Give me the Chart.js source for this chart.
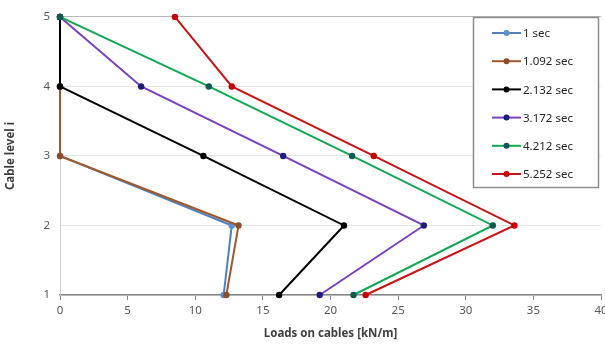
<!DOCTYPE html>
<html>
<head>
<meta charset="utf-8">
<script src="https://cdn.jsdelivr.net/npm/chart.js@4.4.0/dist/chart.umd.min.js"></script>
<style>
  html, body { margin: 0; padding: 0; background: #fff; }
  #wrap { width: 605px; height: 345px; position: relative; }
</style>
</head>
<body>
<div id="wrap"><canvas id="cables"></canvas></div>
<script>
// cable levels (y) and loads per time step (x)
const levels = [1, 2, 3, 4, 5];
const seriesNames = ["1 sec", "1.092 sec", "2.132 sec", "3.172 sec", "4.212 sec", "5.252 sec"];
const load1000 = [12.1, 12.7, 0, 0, 0];
const load1092 = [12.3, 13.2, 0, 0, 0];
const load2132 = [16.2, 21.0, 10.6, 0, 0];
const load3172 = [19.2, 26.9, 16.5, 6.0, 0];
const load4212 = [21.7, 32.0, 21.6, 11.0, 0];
const load5252 = [22.6, 33.6, 23.2, 12.7, 8.5];
const xTicks = [0, 5, 10, 15, 20, 25, 30, 35, 40];

const lineColors = ["#4f81bd", "#a0582c", "#000000", "#7b3fbf", "#10a850", "#c81414"];
const dotColors = ["#5b8fd0", "#8a4e2a", "#000000", "#1e1e78", "#0d5a50", "#c80000"];
const allLoads = [load1000, load1092, load2132, load3172, load4212, load5252];

function toPoints(loads) {
    return loads.map(function (v, i) { return { x: v, y: levels[i] }; });
}

const datasets = allLoads.map(function (loads, i) {
    return {
        label: seriesNames[i],
        data: toPoints(loads),
        showLine: true,
        order: allLoads.length - i,   // later series on top, like the spreadsheet
        clip: false,
        borderColor: lineColors[i],
        backgroundColor: dotColors[i],
        pointBorderColor: dotColors[i],
        pointBackgroundColor: dotColors[i],
        pointRadius: 3.2,
        pointBorderWidth: 0,
        borderWidth: 2,
        tension: 0
    };
});

// legend box drawn inside the plot, like the spreadsheet one
const boxLegend = {
    id: 'boxLegend',
    afterDraw: function (chart) {
        const ctx = chart.ctx;
        const x0 = 473, y0 = 17, w = 125, h = 170;
        ctx.save();
        ctx.fillStyle = "#ffffff";
        ctx.fillRect(x0, y0, w, h);
        ctx.strokeStyle = "#8c8c8c";
        ctx.lineWidth = 1.5;
        ctx.strokeRect(x0 + 0.5, y0 + 0.5, w, h);
        ctx.font = "11.5px 'Noto Sans'";
        ctx.textBaseline = "middle";
        chart.data.datasets.forEach(function (ds, i) {
            const yy = 33 + i * 28.2;
            ctx.strokeStyle = ds.borderColor;
            ctx.lineWidth = 2;
            ctx.beginPath();
            ctx.moveTo(492, yy);
            ctx.lineTo(521, yy);
            ctx.stroke();
            ctx.fillStyle = ds.pointBackgroundColor;
            ctx.beginPath();
            ctx.arc(506.5, yy, 3, 0, Math.PI * 2);
            ctx.fill();
            ctx.fillStyle = "#262626";
            ctx.fillText(ds.label, 523, yy + 1);
        });
        ctx.restore();
    }
};

new Chart(document.getElementById("cables").getContext("2d"), {
    type: 'scatter',
    data: { datasets: datasets },
    options: {
        responsive: true,
        maintainAspectRatio: false,
        animation: false,
        layout: { padding: { top: 14, right: 1, left: 0, bottom: 0 } },
        plugins: {
            legend: { display: false },
            tooltip: { enabled: false }
        },
        scales: {
            x: {
                type: 'linear',
                min: 0,
                max: 40,
                afterBuildTicks: function (scale) {
                    scale.ticks = xTicks.map(function (v) { return { value: v }; });
                },
                afterFit: function (scale) {
                    scale.height = 50;
                    scale.paddingRight = 0;
                    scale.paddingLeft = 0;
                },
                ticks: {
                    color: "#595959",
                    font: { family: "'Noto Sans'", size: 11.5 },
                    padding: 4,
                    maxRotation: 0
                },
                grid: {
                    drawOnChartArea: false,
                    color: "#868686",
                    tickLength: 5
                },
                border: { color: "#868686", width: 1.5 },
                title: {
                    display: true,
                    text: "Loads on cables [kN/m]",
                    color: "#404040",
                    font: { family: "'Noto Sans'", size: 11.5, weight: 'bold' },
                    padding: { top: 2 }
                }
            },
            y: {
                type: 'linear',
                min: 1,
                max: 5,
                ticks: {
                    stepSize: 1,
                    color: "#595959",
                    font: { family: "'Noto Sans'", size: 11.5 },
                    padding: 10
                },
                afterFit: function (scale) {
                    scale.width = 60;
                },
                grid: {
                    color: function (c) { return c.tick && c.tick.value === 5 ? "#b8b8b8" : "#e6e6e6"; },
                    drawTicks: false,
                    lineWidth: 1
                },
                border: { color: "#d0d0d0" },
                title: {
                    display: true,
                    text: "Cable level i",
                    color: "#404040",
                    font: { family: "'Noto Sans'", size: 11.5, weight: 'bold' },
                    padding: { bottom: 6 }
                }
            }
        }
    },
    plugins: [boxLegend]
});
</script>
</body>
</html>
